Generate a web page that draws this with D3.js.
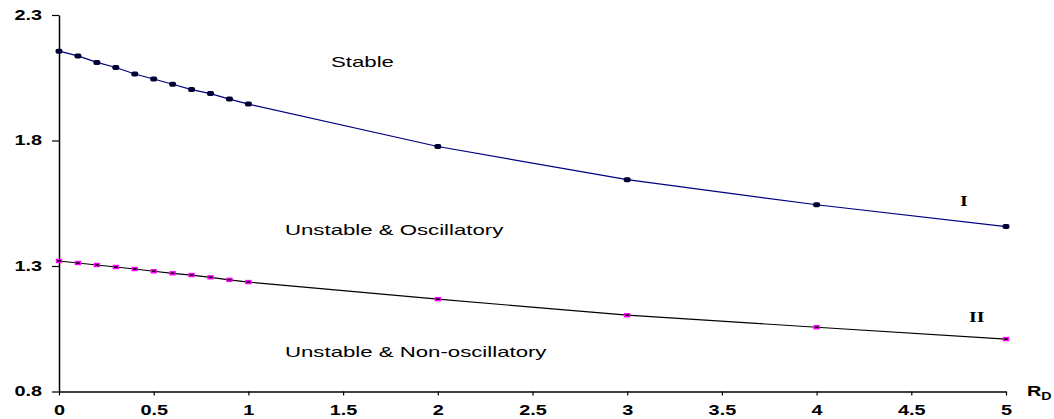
<!DOCTYPE html>
<html>
<head>
<meta charset="utf-8">
<script src="https://cdn.jsdelivr.net/npm/d3@7"></script>
<style>
  body { margin: 0; background: #fff; }
  svg { display: block; }
  text { font-family: "Liberation Sans", Arial, sans-serif; }
</style>
</head>
<body>
<div id="chart"></div>
<script>
// data
var rdValues = [0, 0.1, 0.2, 0.3, 0.4, 0.5, 0.6, 0.7, 0.8, 0.9, 1, 2, 3, 4, 5];
var curveI = [2.156, 2.137, 2.111, 2.091, 2.065, 2.045, 2.024, 2.003, 1.987, 1.965, 1.945, 1.776, 1.644, 1.544, 1.457];
var curveII = [1.320, 1.312, 1.304, 1.296, 1.288, 1.279, 1.271, 1.264, 1.255, 1.245, 1.236, 1.168, 1.104, 1.056, 1.009];
var xTicks = [0, 0.5, 1, 1.5, 2, 2.5, 3, 3.5, 4, 4.5, 5];
var yTicks = [0.8, 1.3, 1.8, 2.3];
var regionLabels = ["Stable", "Unstable & Oscillatory", "Unstable & Non-oscillatory"];

var width = 1054, height = 419;
var sx = 1.42;   // the picture is stretched sideways
var sxText = 1.48;

var svg = d3.select("#chart").append("svg")
  .attr("width", width)
  .attr("height", height);

var x = d3.scaleLinear().domain([0, 5]).range([59, 1006]);
var y = d3.scaleLinear().domain([0.8, 2.3]).range([391.5, 15]);

// axes
var gx = svg.append("g")
  .attr("transform", "translate(0," + y(0.8) + ")")
  .call(d3.axisBottom(x).tickValues(xTicks).tickSize(4).tickSizeOuter(0).tickPadding(10)
    .tickFormat(d3.format("")));

var gy = svg.append("g")
  .attr("transform", "translate(" + x(0) + ",0)")
  .call(d3.axisLeft(y).tickValues(yTicks).tickSize(7).tickSizeOuter(0).tickPadding(10)
    .tickFormat(d3.format(".1f")));

[gx, gy].forEach(function(g) {
  g.select(".domain").attr("stroke", "#000").attr("stroke-width", 1.5);
  g.selectAll(".tick line").attr("stroke", "#000").attr("stroke-width", 1.2);
  g.selectAll(".tick text")
    .attr("fill", "#000")
    .style("font-size", "14px")
    .style("font-weight", "bold");
});
gx.selectAll(".tick text").attr("transform", "scale(" + sx + ",1)");
gy.selectAll(".tick text")
  .attr("x", -17 / sx)
  .attr("transform", "scale(" + sx + ",1)");

// lines
var pointsI = rdValues.map(function(d, i) { return [d, curveI[i]]; });
var pointsII = rdValues.map(function(d, i) { return [d, curveII[i]]; });

var line = d3.line()
  .x(function(d) { return x(d[0]); })
  .y(function(d) { return y(d[1]); });

svg.append("path")
  .datum(pointsI)
  .attr("d", line)
  .attr("fill", "none")
  .attr("stroke", "#000080")
  .attr("stroke-width", 1.2);

svg.append("path")
  .datum(pointsII)
  .attr("d", line)
  .attr("fill", "none")
  .attr("stroke", "#000")
  .attr("stroke-width", 1.2);

// markers
svg.selectAll(".markI")
  .data(pointsI)
  .enter().append("rect")
  .attr("class", "markI")
  .attr("x", function(d) { return x(d[0]) - 3.5; })
  .attr("y", function(d) { return y(d[1]) - 2.5; })
  .attr("width", 7)
  .attr("height", 5)
  .attr("rx", 2)
  .attr("fill", "#000033");

svg.selectAll(".markII")
  .data(pointsII)
  .enter().append("rect")
  .attr("class", "markII")
  .attr("x", function(d) { return x(d[0]) - 2.5; })
  .attr("y", function(d) { return y(d[1]) - 1.5; })
  .attr("width", 5)
  .attr("height", 3)
  .attr("fill", "#000")
  .attr("stroke", "#ff00ff")
  .attr("stroke-width", 1.4);

// region labels
var regionPos = [[331, 66.5], [285, 235], [285, 356.5]];
svg.selectAll(".region")
  .data(regionLabels)
  .enter().append("text")
  .attr("class", "region")
  .attr("transform", function(d, i) {
    return "translate(" + regionPos[i][0] + "," + regionPos[i][1] + ") scale(" + sxText + ",1)";
  })
  .style("font-size", "15px")
  .attr("fill", "#000")
  .text(function(d) { return d; });

// curve names
svg.append("text")
  .attr("transform", "translate(960,206) scale(" + sx + ",1)")
  .style("font-family", "'Liberation Serif', 'Times New Roman', serif")
  .style("font-size", "14px")
  .style("font-weight", "bold")
  .text("I");

svg.append("text")
  .attr("transform", "translate(969,322) scale(" + sx + ",1)")
  .style("font-family", "'Liberation Serif', 'Times New Roman', serif")
  .style("font-size", "14px")
  .style("font-weight", "bold")
  .text("II");

// axis title
var rd = svg.append("text")
  .attr("transform", "translate(1027,396) scale(" + sx + ",1)")
  .style("font-size", "14px")
  .style("font-weight", "bold");
rd.append("tspan").text("R");
rd.append("tspan").attr("dy", 4).style("font-size", "10px").text("D");
</script>
</body>
</html>
